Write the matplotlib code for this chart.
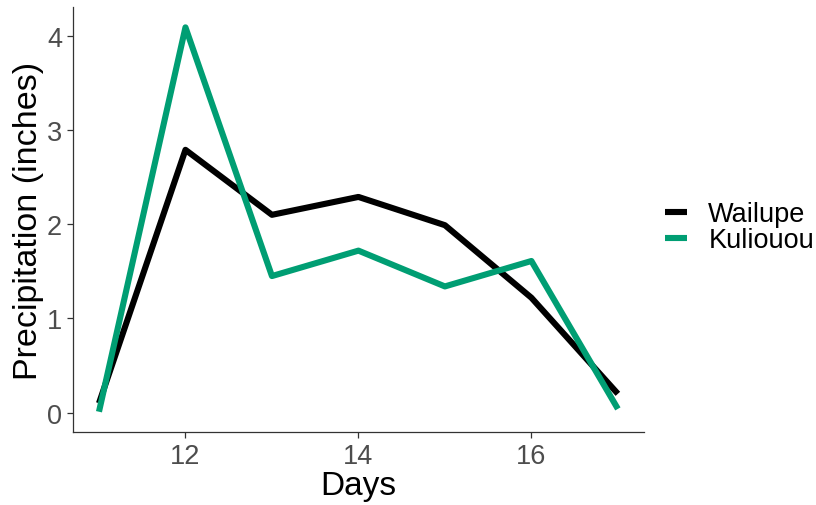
import numpy as np
import matplotlib.pyplot as plt

plt.rcParams['font.family'] = ['Liberation Sans', 'DejaVu Sans']

# precipitation by day
days = [11, 12, 13, 14, 15, 16, 17]
wailupe = [0.10, 2.79, 2.10, 2.29, 1.99, 1.22, 0.20]
kuliouou = [0.01, 4.09, 1.45, 1.72, 1.34, 1.61, 0.04]
station_names = ['Wailupe', 'Kuliouou']
station_colors = ['#000000', '#009E73']

fig = plt.figure(figsize=(8.16, 5.06), dpi=100)
ax = fig.add_axes([0.0895, 0.1443, 0.6995, 0.8397])

for vals, name, col in zip([wailupe, kuliouou], station_names, station_colors):
    ax.plot(days, vals, color=col, lw=4.4, label=name, solid_capstyle='butt')

ax.set_xlim(10.7, 17.3)
ax.set_ylim(-0.205, 4.305)
ax.set_xticks([12, 14, 16])
ax.set_yticks([0, 1, 2, 3, 4])

for s in ['top', 'right']:
    ax.spines[s].set_visible(False)
for s in ['left', 'bottom']:
    ax.spines[s].set_color('#333333')
    ax.spines[s].set_linewidth(0.9)
ax.tick_params(colors='#333333', labelcolor='#4D4D4D', labelsize=19.5, length=4, width=0.9, pad=4)

ax.set_xlabel('Days', fontsize=24, color='black', labelpad=1)
ax.set_ylabel('Precipitation (inches)', fontsize=24.5, color='black', labelpad=2)

ax.legend(loc='center left', bbox_to_anchor=(665 / 816, 1 - 228 / 506),
          bbox_transform=fig.transFigure, frameon=False, borderpad=0, borderaxespad=0,
          fontsize=19.5, handlelength=0.8, handletextpad=0.8, labelspacing=0.0)

fig.savefig('out.png', dpi=100)
